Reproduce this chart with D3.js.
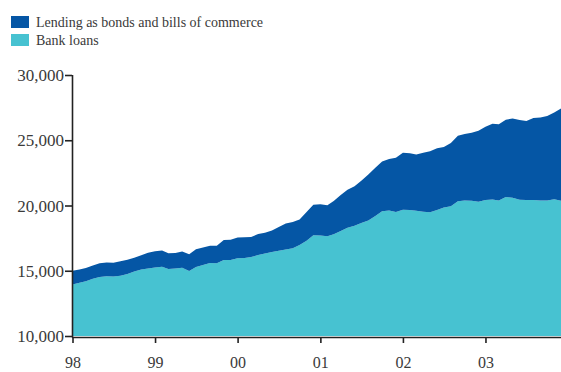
<!DOCTYPE html>
<html>
<head>
<meta charset="utf-8">
<script src="https://cdn.jsdelivr.net/npm/d3@7"></script>
<style>
  html, body { margin: 0; padding: 0; background: #fff; }
  svg { display: block; }
  text { font-family: "Liberation Serif", "DejaVu Serif", serif; fill: #3a3a3a; }
</style>
</head>
<body>
<svg id="chart" width="561" height="372"></svg>
<script>
// Monthly observations, January 1998 – December 2003
const startMonth = new Date(1998, 0, 1);
const bankLoans = [
  13950, 14080, 14200, 14380, 14520, 14580, 14560, 14620, 14760, 14950, 15100, 15180,
  15250, 15310, 15130, 15170, 15230, 14990, 15280, 15440, 15600, 15580, 15820, 15830,
  15950, 15970, 16050, 16200, 16330, 16430, 16530, 16620, 16720, 16980, 17300, 17720,
  17700, 17650, 17800, 18050, 18300, 18450, 18650, 18850, 19200, 19560, 19620, 19500,
  19680, 19660, 19600, 19520, 19480, 19650, 19840, 19950, 20320, 20390, 20360, 20290,
  20420, 20460, 20390, 20650, 20600, 20450, 20420, 20420, 20380, 20380, 20470, 20360
];
const bondsAndBills = [
  1050, 1020, 1020, 1020, 1060, 1060, 1050, 1100, 1090, 1050, 1080, 1200,
  1250, 1250, 1220, 1190, 1240, 1280, 1370, 1340, 1320, 1340, 1530, 1540,
  1590, 1590, 1530, 1610, 1580, 1650, 1820, 2010, 2010, 1950, 2200, 2330,
  2390, 2360, 2550, 2750, 2900, 3030, 3250, 3530, 3700, 3820, 3940, 4150,
  4360, 4340, 4300, 4530, 4670, 4730, 4640, 4830, 5030, 5090, 5220, 5440,
  5610, 5810, 5830, 5930, 6060, 6100, 6060, 6280, 6370, 6470, 6650, 7080
];
const seriesNames = ["Lending as bonds and bills of commerce", "Bank loans"];
const seriesColors = ["#0556a5", "#47c2d1"];
const yTicks = [10000, 15000, 20000, 25000, 30000];
const yearTicks = [1998, 1999, 2000, 2001, 2002, 2003];

const rows = bankLoans.map((v, i) => ({
  date: d3.timeMonth.offset(startMonth, i),
  loans: v,
  bonds: bondsAndBills[i]
}));

const svg = d3.select("#chart");
const plot = { left: 72, right: 561, top: 75, bottom: 336 };

const x = d3.scaleTime()
  .domain([rows[0].date, rows[rows.length - 1].date])
  .range([plot.left + 0.5, plot.right]);
const y = d3.scaleLinear().domain([10000, 30000]).range([plot.bottom, plot.top]);

const layers = d3.stack().keys(["loans", "bonds"])(rows);
const area = d3.area()
  .x(d => x(d.data.date))
  .y0(d => y(Math.max(d[0], 10000)))
  .y1(d => y(d[1]));

// loans drawn as the lower (teal) band, bonds & bills stacked above (dark blue)
svg.append("g")
  .selectAll("path")
  .data(layers)
  .join("path")
  .attr("d", area)
  .attr("fill", (d, i) => i === 0 ? seriesColors[1] : seriesColors[0]);

// Y axis
const yAxis = d3.axisLeft(y)
  .tickValues(yTicks)
  .tickSize(7)
  .tickSizeOuter(0)
  .tickFormat(d3.format(","));
const gy = svg.append("g").attr("transform", `translate(${plot.left},0)`).call(yAxis);
gy.select(".domain").attr("stroke", "#222").attr("stroke-width", 1.6)
  .attr("d", `M0.5,${plot.top}V${plot.bottom + 1.5}`);
gy.selectAll(".tick line").attr("stroke", "#222").attr("stroke-width", 1.6);
gy.selectAll(".tick text")
  .attr("x", -8)
  .attr("dy", "0.33em")
  .style("font-size", "17px")
  .style("font-family", "\"Liberation Serif\", serif")
  .attr("fill", "#444");

// X axis
const xAxis = d3.axisBottom(x)
  .tickValues(yearTicks.map(yr => new Date(yr, 0, 1)))
  .tickSize(6)
  .tickSizeOuter(0)
  .tickFormat(d3.timeFormat("%y"));
const gx = svg.append("g").attr("transform", `translate(0,${plot.bottom + 1})`).call(xAxis);
gx.select(".domain").attr("stroke", "#222").attr("stroke-width", 1.6)
  .attr("d", `M${plot.left},0.5H${plot.right}`);
gx.selectAll(".tick line").attr("stroke", "#222").attr("stroke-width", 1.6);
gx.selectAll(".tick text")
  .attr("y", 25)
  .attr("dy", "0.35em")
  .style("font-size", "16px")
  .style("font-family", "\"Liberation Serif\", serif")
  .attr("fill", "#444");

// Legend
const legend = svg.append("g");
seriesNames.forEach((name, i) => {
  const g = legend.append("g").attr("transform", `translate(11,${16 + i * 18})`);
  g.append("rect").attr("width", 18).attr("height", 12).attr("fill", seriesColors[i]);
  g.append("text").attr("x", 25).attr("y", 10.5)
    .style("font-size", "14px")
    .attr("fill", "#444")
    .text(name);
});
</script>
</body>
</html>
